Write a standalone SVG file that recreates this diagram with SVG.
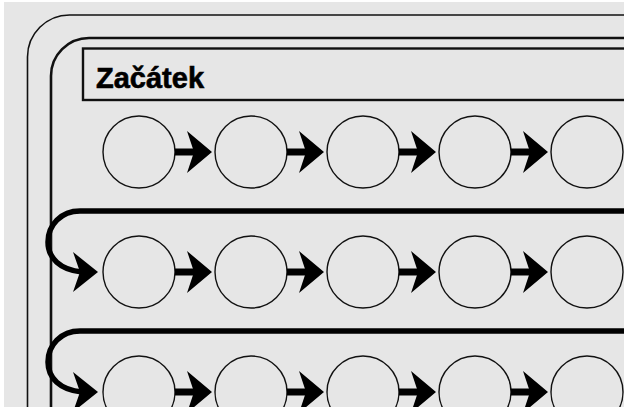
<svg xmlns="http://www.w3.org/2000/svg" width="624" height="407" viewBox="0 0 624 407">
<defs>
<style>
.bg{fill:#e6e6e6}
.node{fill:none;stroke:#111;stroke-width:1.4}
.frame{fill:none;stroke:#111}
.loop{fill:none;stroke:#000;stroke-width:5.5}
.head{fill:#000}
.title{font-family:"Liberation Sans",Arial,sans-serif;font-weight:bold;font-size:29px;fill:#000;stroke:#000;stroke-width:0.6}
</style>
<g id="arr">
<rect x="0" y="-3.5" width="22" height="7" class="head"/>
<path class="head" d="M37,0 L12,-21 L19,0 L12,21 Z"/>
</g>
<path id="lhead" class="head" d="M0,0 L-25,-20 L-18,0 L-25,20 Z"/>
</defs>
<rect x="0" y="0" width="624" height="407" fill="#fff"/>
<rect x="4" y="2" width="620" height="405" class="bg"/>
<g id="frames">
<path class="frame" stroke-width="1.6" d="M27.5,460 V57 A42,42 0 0 1 69.5,15 H640"/>
<path class="frame" stroke-width="2.6" d="M51,460 V76 A38,38 0 0 1 89,38 H640"/>
</g>
<g id="title">
<rect x="83" y="48.5" width="560" height="51.5" class="frame" stroke-width="2.4"/>
<text x="96" y="88" class="title">Začátek</text>
</g>
<g id="nodes">
<g id="n11"><circle cx="139" cy="152" r="36" class="node"/></g>
<g id="n12"><circle cx="251" cy="152" r="36" class="node"/></g>
<g id="n13"><circle cx="363" cy="152" r="36" class="node"/></g>
<g id="n14"><circle cx="475" cy="152" r="36" class="node"/></g>
<g id="n15"><circle cx="587" cy="152" r="36" class="node"/></g>
<g id="n21"><circle cx="139" cy="272" r="36" class="node"/></g>
<g id="n22"><circle cx="251" cy="272" r="36" class="node"/></g>
<g id="n23"><circle cx="363" cy="272" r="36" class="node"/></g>
<g id="n24"><circle cx="475" cy="272" r="36" class="node"/></g>
<g id="n25"><circle cx="587" cy="272" r="36" class="node"/></g>
<g id="n31"><circle cx="139" cy="392" r="36" class="node"/></g>
<g id="n32"><circle cx="251" cy="392" r="36" class="node"/></g>
<g id="n33"><circle cx="363" cy="392" r="36" class="node"/></g>
<g id="n34"><circle cx="475" cy="392" r="36" class="node"/></g>
<g id="n35"><circle cx="587" cy="392" r="36" class="node"/></g>
</g>
<g id="connectors">
<use href="#arr" x="175" y="152"/>
<use href="#arr" x="287" y="152"/>
<use href="#arr" x="399" y="152"/>
<use href="#arr" x="511" y="152"/>
<use href="#arr" x="175" y="272"/>
<use href="#arr" x="287" y="272"/>
<use href="#arr" x="399" y="272"/>
<use href="#arr" x="511" y="272"/>
<use href="#arr" x="175" y="392"/>
<use href="#arr" x="287" y="392"/>
<use href="#arr" x="399" y="392"/>
<use href="#arr" x="511" y="392"/>
<path class="loop" d="M640,211 H80 C61,211 48,225 48,242 C48,258 60,270 82,272"/>
<use href="#lhead" x="98" y="272"/>
<path class="loop" d="M640,331 H80 C61,331 48,345 48,362 C48,378 60,390 82,392"/>
<use href="#lhead" x="98" y="392"/>
</g>
</svg>
